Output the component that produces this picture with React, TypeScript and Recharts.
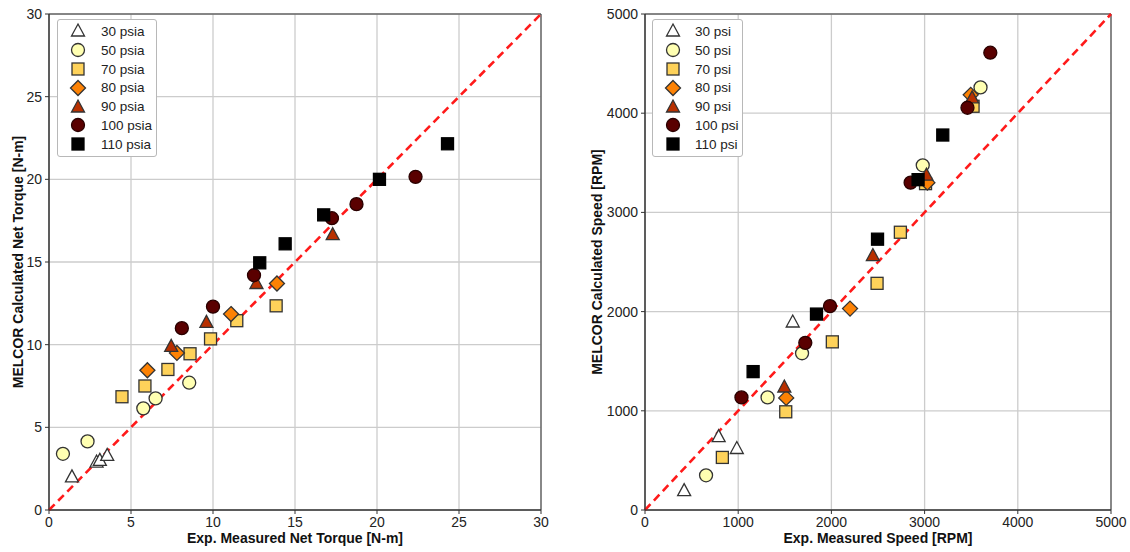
import React from 'react';
import {
  ScatterChart, Scatter, XAxis, YAxis, CartesianGrid, ReferenceLine, ReferenceArea, Legend, Label,
} from 'recharts';

// ---------- data ----------
const torqueTicks = [0, 5, 10, 15, 20, 25, 30];
const speedTicks = [0, 1000, 2000, 3000, 4000, 5000];

const torqueLabels = ['30 psia', '50 psia', '70 psia', '80 psia', '90 psia', '100 psia', '110 psia'];
const speedLabels = ['30 psi', '50 psi', '70 psi', '80 psi', '90 psi', '100 psi', '110 psi'];

const torque30 = [[1.4, 2.0], [2.9, 2.9], [3.1, 3.0], [3.55, 3.3]];
const torque50 = [[0.85, 3.4], [2.35, 4.15], [5.75, 6.15], [6.5, 6.75], [8.55, 7.7]];
const torque70 = [[4.45, 6.85], [5.85, 7.5], [7.25, 8.5], [8.6, 9.45], [9.85, 10.35], [11.45, 11.45], [13.85, 12.35]];
const torque80 = [[6.0, 8.45], [7.8, 9.5], [11.1, 11.85], [13.9, 13.7]];
const torque90 = [[7.45, 9.9], [9.6, 11.35], [12.65, 13.7], [17.3, 16.65]];
const torque100 = [[8.1, 11.0], [10.0, 12.3], [12.5, 14.2], [17.25, 17.65], [18.75, 18.5], [22.35, 20.15]];
const torque110 = [[12.85, 14.95], [14.4, 16.1], [16.75, 17.85], [20.15, 20.0], [24.3, 22.15]];

const speed30 = [[420, 195], [790, 740], [985, 620], [1585, 1895]];
const speed50 = [[655, 350], [1315, 1135], [1685, 1580], [2980, 3475], [3600, 4260]];
const speed70 = [[830, 530], [1510, 990], [2010, 1695], [2490, 2285], [2740, 2800], [3010, 3290], [3520, 4070]];
const speed80 = [[1515, 1130], [2200, 2030], [3030, 3300], [3495, 4185]];
const speed90 = [[1495, 1240], [2445, 2565], [3020, 3375], [3510, 4155]];
const speed100 = [[1035, 1135], [1720, 1685], [1985, 2055], [2850, 3300], [3460, 4055], [3705, 4610]];
const speed110 = [[1160, 1395], [1840, 1975], [2495, 2730], [2930, 3330], [3195, 3780]];

// ---------- styles ----------
type Kind = 'triangle' | 'circle' | 'square' | 'diamond';
const styles: { kind: Kind; fill: string; stroke: string }[] = [
  { kind: 'triangle', fill: '#ffffff', stroke: '#333333' },
  { kind: 'circle', fill: '#ffffb2', stroke: '#333333' },
  { kind: 'square', fill: '#fed25a', stroke: '#333333' },
  { kind: 'diamond', fill: '#fd8204', stroke: '#333333' },
  { kind: 'triangle', fill: '#b83000', stroke: '#333333' },
  { kind: 'circle', fill: '#5a0000', stroke: '#2a0000' },
  { kind: 'square', fill: '#000000', stroke: '#000000' },
];

const FONT = '"Liberation Sans", Arial, sans-serif';

function Marker({ kind, cx, cy, fill, stroke }: { kind: Kind; cx: number; cy: number; fill: string; stroke: string }) {
  const sw = 1.3;
  if (kind === 'circle') return <circle cx={cx} cy={cy} r={6.5} fill={fill} stroke={stroke} strokeWidth={sw} />;
  if (kind === 'square') return <rect x={cx - 6} y={cy - 6} width={12} height={12} fill={fill} stroke={stroke} strokeWidth={sw} />;
  if (kind === 'diamond')
    return <polygon points={`${cx},${cy - 7.5} ${cx + 7.5},${cy} ${cx},${cy + 7.5} ${cx - 7.5},${cy}`} fill={fill} stroke={stroke} strokeWidth={sw} />;
  return <polygon points={`${cx},${cy - 7} ${cx + 6.5},${cy + 5} ${cx - 6.5},${cy + 5}`} fill={fill} stroke={stroke} strokeWidth={sw} strokeLinejoin="miter" />;
}

function toPoints(arr: number[][]) {
  return arr.map(([x, y]) => ({ x, y }));
}

function LegendBox({ labels, width, textLeft, markerCx }: { labels: string[]; width: number; textLeft: number; markerCx: number }) {
  return (
    <div
      style={{
        width,
        background: '#fff',
        border: '1px solid #b8b8b8',
        borderRadius: 3,
        padding: '2px 0',
        fontFamily: FONT,
        fontSize: 13.5,
        color: '#222',
        boxSizing: 'border-box',
      }}
    >
      {labels.map((l, i) => (
        <div key={l} style={{ height: 18.8, position: 'relative' }}>
          <svg width={18} height={18} style={{ position: 'absolute', left: markerCx - 9, top: 0.4 }}>
            <Marker kind={styles[i].kind} cx={9} cy={9} fill={styles[i].fill} stroke={styles[i].stroke} />
          </svg>
          <span style={{ position: 'absolute', left: textLeft, top: 1, lineHeight: '17px', whiteSpace: 'nowrap' }}>{l}</span>
        </div>
      ))}
    </div>
  );
}

function YTitle(text: string) {
  return (props: any) => {
    const vb = props.viewBox;
    const x = vb.x + 4;
    const y = vb.y + vb.height / 2;
    return (
      <text x={x} y={y} transform={`rotate(-90 ${x} ${y})`} textAnchor="middle" dominantBaseline="central"
        fontFamily={FONT} fontSize={14} fontWeight="bold" fill="#111">{text}</text>
    );
  };
}

function XTitle(text: string) {
  return (props: any) => {
    const vb = props.viewBox;
    return (
      <text x={vb.x + vb.width / 2} y={vb.y + 33} textAnchor="middle"
        fontFamily={FONT} fontSize={14} fontWeight="bold" fill="#111">{text}</text>
    );
  };
}

function Panel(props: {
  width: number; height: number; marginLeft: number; yWidth: number; max: number; ticks: number[];
  series: number[][][]; labels: string[]; xTitle: string; yTitle: string;
  legendLeft: number; legendWidth: number; legendTextLeft: number; legendMarkerCx: number;
}) {
  const { width, height, marginLeft, yWidth, max, ticks, series, labels } = props;
  const tickStyle = { fontFamily: FONT, fontSize: 14, fill: '#222' };
  return (
    <ScatterChart width={width} height={height} margin={{ top: 14, right: 19, left: marginLeft, bottom: 2 }}>
      <CartesianGrid stroke="#cccccc" strokeWidth={1.3} />
      <XAxis type="number" dataKey="x" domain={[0, max]} ticks={ticks} interval={0} height={40}
        tick={tickStyle} tickSize={4} tickMargin={3} stroke="#333" allowDataOverflow>
        <Label content={XTitle(props.xTitle)} />
      </XAxis>
      <YAxis type="number" dataKey="y" domain={[0, max]} ticks={ticks} interval={0} width={yWidth}
        tick={tickStyle} tickSize={4} tickMargin={3} stroke="#333" allowDataOverflow>
        <Label content={YTitle(props.yTitle)} />
      </YAxis>
      <ReferenceArea x1={0} x2={max} y1={0} y2={max} fill="none" stroke="#333" strokeWidth={1} fillOpacity={0} />
      <ReferenceLine segment={[{ x: 0, y: 0 }, { x: max, y: max }]} stroke="#ff1a1a" strokeWidth={2.6} strokeDasharray="8 5" />
      {series.map((s, i) => (
        <Scatter key={labels[i]} name={labels[i]} data={toPoints(s)} isAnimationActive={false}
          shape={(p: any) => <Marker kind={styles[i].kind} cx={p.cx} cy={p.cy} fill={styles[i].fill} stroke={styles[i].stroke} />} />
      ))}
      <Legend
        layout="vertical"
        verticalAlign="middle"
        align="center"
        wrapperStyle={{ left: props.legendLeft, top: 19, width: props.legendWidth }}
        content={() => (
          <LegendBox labels={labels} width={props.legendWidth} textLeft={props.legendTextLeft} markerCx={props.legendMarkerCx} />
        )}
      />
    </ScatterChart>
  );
}

export default function App() {
  return (
    <div style={{ position: 'absolute', left: 0, top: 0, width: 1130, height: 552, background: '#fff' }}>
      <div style={{ position: 'absolute', left: 0, top: 0 }}>
        <Panel width={560} height={552} marginLeft={14} yWidth={35} max={30} ticks={torqueTicks}
          series={[torque30, torque50, torque70, torque80, torque90, torque100, torque110]}
          labels={torqueLabels} xTitle="Exp. Measured Net Torque [N-m]" yTitle="MELCOR Calculated Net Torque [N-m]"
          legendLeft={57} legendWidth={100} legendTextLeft={43} legendMarkerCx={20} />
      </div>
      <div style={{ position: 'absolute', left: 575, top: 0 }}>
        <Panel width={555} height={552} marginLeft={18} yWidth={52} max={5000} ticks={speedTicks}
          series={[speed30, speed50, speed70, speed80, speed90, speed100, speed110]}
          labels={speedLabels} xTitle="Exp. Measured Speed [RPM]" yTitle="MELCOR Calculated Speed [RPM]"
          legendLeft={77} legendWidth={91} legendTextLeft={42} legendMarkerCx={20} />
      </div>
    </div>
  );
}
